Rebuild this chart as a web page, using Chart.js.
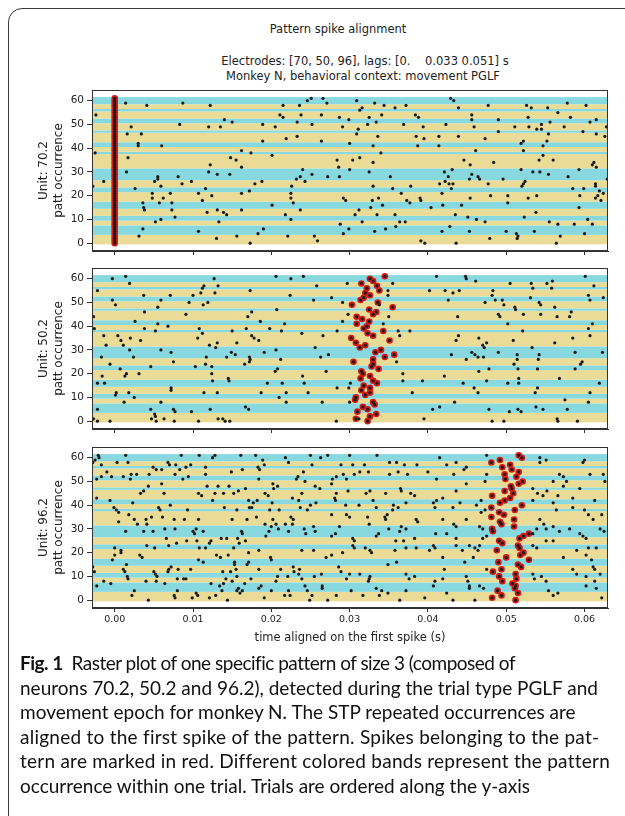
<!DOCTYPE html>
<html>
<head>
<meta charset="utf-8">
<script src="https://cdn.jsdelivr.net/npm/chart.js@4.4.1/dist/chart.umd.min.js"></script>
<style>
  html, body { margin: 0; padding: 0; background: #fff; width: 625px; height: 816px; overflow: hidden; position: relative; }
  .frame { position: absolute; left: 8px; top: 8px; width: 700px; height: 900px; border: 1px solid #3a3a3a; border-top-left-radius: 14px; }
  .mt { position: absolute; font-family: 'DejaVu Sans'; font-size: 11.5px; line-height: 15px; color: #222; white-space: nowrap; transform: translateX(-50%); }
  canvas { position: absolute; left: 0; }
  .cap { position: absolute; left: 20px; top: 651px; font-family: Lato; font-size: 19px; line-height: 24.6px; color: #111; white-space: nowrap; }
  .cap b { font-weight: 700; }
  .cap span { display: block; }
</style>
</head>
<body>
<div class="frame"></div>
<div class="mt" style="left:338px;top:22px">Pattern spike alignment</div>
<div class="mt" style="left:365px;top:54px">Electrodes: [70, 50, 96], lags: [0.&nbsp;&nbsp;&nbsp;&nbsp;0.033 0.051] s</div>
<div class="mt" style="left:363px;top:69px">Monkey N, behavioral context: movement PGLF</div>

<canvas id="p1" width="625" height="181" style="top:80px"></canvas>
<canvas id="p2" width="625" height="181" style="top:258px"></canvas>
<canvas id="p3" width="625" height="217" style="top:437px"></canvas>

<div class="cap">
  <span style="letter-spacing:-0.5px"><b>Fig. 1</b>&nbsp; Raster plot of one specific pattern of size 3 (composed of</span>
  <span>neurons 70.2, 50.2 and 96.2), detected during the trial type PGLF and</span>
  <span>movement epoch for monkey N. The STP repeated occurrences are</span>
  <span style="letter-spacing:0.25px">aligned to the first spike of the pattern. Spikes belonging to the pat-</span>
  <span style="letter-spacing:0.25px">tern are marked in red. Different colored bands represent the pattern</span>
  <span>occurrence within one trial. Trials are ordered along the y-axis</span>
</div>

<script>
// ---- data ----
const xTicks = [0, 0.01, 0.02, 0.03, 0.04, 0.05, 0.06];
const yTicks = [0, 10, 20, 30, 40, 50, 60];
const units = ['70.2', '50.2', '96.2'];

// first occurrence of every trial (bands alternate yellow / cyan)
const trialStarts = [0, 4, 8, 10, 12, 15, 18, 22, 24, 27, 32, 38, 39, 41, 43, 47, 48, 51, 53, 56, 57, 59];
const lastOccurrence = 61;

// pattern spike time per occurrence (0..61)
const p1Pattern = [0,0,0,0,0,0,0,0,0,0,0,0,0,0,0,0,0,0,0,0,0,0,0,0,0,0,0,0,0,0,0,0,
  0,0,0,0,0,0,0,0,0,0,0,0,0,0,0,0,0,0,0,0,0,0,0,0,0,0,0,0,0,0];
const p2Pattern = [0.0323,0.0308,0.0326,0.0334,0.0310,0.0323,0.0317,0.0332,0.0330,0.0307,
  0.0308,0.0320,0.0326,0.0315,0.0326,0.0318,0.0335,0.0330,0.0314,0.0326,
  0.0317,0.0315,0.0337,0.0328,0.0330,0.0305,0.0330,0.0345,0.0357,0.0333,
  0.0340,0.0313,0.0320,0.0308,0.0351,0.0302,0.0330,0.0323,0.0343,0.0318,
  0.0322,0.0309,0.0325,0.0316,0.0309,0.0330,0.0334,0.0325,0.0355,0.0303,
  0.0336,0.0314,0.0318,0.0326,0.0320,0.0338,0.0322,0.0335,0.0315,0.0330,
  0.0326,0.0345];
const p3Pattern = [0.0512,0.0482,0.0494,0.0515,0.0489,0.0511,0.0512,0.0508,0.0495,0.0513,
  0.0491,0.0512,0.0483,0.0494,0.0519,0.0515,0.0490,0.0529,0.0500,0.0518,
  0.0522,0.0488,0.0517,0.0515,0.0495,0.0491,0.0517,0.0522,0.0529,0.0483,
  0.0482,0.0510,0.0494,0.0492,0.0510,0.0481,0.0497,0.0491,0.0511,0.0481,
  0.0520,0.0492,0.0498,0.0505,0.0482,0.0509,0.0498,0.0507,0.0506,0.0516,
  0.0521,0.0499,0.0513,0.0498,0.0516,0.0507,0.0495,0.0505,0.0481,0.0492,
  0.0520,0.0516];

// other spikes [time, occurrence]
const p1Spikes = [
  [-0.0024,54],[-0.0025,38],[-0.0028,24],[-0.0014,26],[0.0014,59],[0.0041,58],[0.0021,49],[0.0016,46],[0.0034,46],[0.0030,42],
  [0.0030,41],[0.0017,36],[0.0015,30],[0.0026,23],[0.0036,17],[0.0037,15],[0.0038,14],[0.0036,6],[0.0031,3],
  [0.0060,41],[0.0051,26],[0.0055,28],[0.0055,27],[0.0048,21],[0.0048,19],[0.0059,24],[0.0062,19],[0.0057,17],[0.0052,9],
  [0.0059,10],[0.0071,21],[0.0073,17],[0.0073,14],[0.0077,11],[0.0081,28],[0.0086,25],[0.0083,50],[0.0087,59],[0.0098,26],
  [0.0107,21],[0.0112,18],[0.0107,5],[0.0118,13],[0.0120,49],[0.0122,58],[0.0122,33],[0.0120,30],[0.0116,23],[0.0124,20],
  [0.0131,29],[0.0130,2],[0.0131,14],[0.0133,9],[0.0135,49],[0.0140,52],[0.0139,13],[0.0143,12],[0.0147,29],[0.0148,36],
  [0.0150,51],[0.0155,35],[0.0156,3],[0.0162,32],[0.0162,39],[0.0162,21],[0.0162,14],[0.0174,38],[0.0172,22],[0.0173,0],
  [0.0179,25],[0.0183,4],[0.0189,50],[0.0188,26],[0.0189,43],[0.0190,6],
  [0.0201,16],[0.0201,37],[0.0205,49],[0.0211,54],[0.0215,53],[0.0215,58],[0.0219,44],[0.0218,12],[0.0221,3],[0.0225,19],
  [0.0225,21],[0.0226,24],[0.0225,10],[0.0228,17],[0.0233,45],[0.0236,58],[0.0233,51],[0.0232,27],[0.0238,54],[0.0237,28],
  [0.0243,26],[0.0240,31],[0.0237,14],[0.0246,60],[0.0251,61],[0.0252,50],[0.0252,29],[0.0255,3],[0.0259,1],
  [0.0266,61],[0.0271,59],[0.0264,54],[0.0264,43],[0.0272,28],[0.0287,53],[0.0291,49],[0.0284,35],[0.0286,32],[0.0287,28],
  [0.0288,8],[0.0292,4],[0.0292,19],[0.0295,18],[0.0299,52],[0.0300,42],[0.0300,31],[0.0299,6],
  [0.0309,60],[0.0311,48],[0.0309,46],[0.0313,36],[0.0304,35],[0.0307,12],[0.0312,14],[0.0316,9],[0.0313,56],[0.0316,57],
  [0.0325,53],[0.0323,50],[0.0334,51],[0.0332,59],[0.0336,45],[0.0330,41],[0.0340,38],[0.0330,34],[0.0325,30],[0.0330,24],
  [0.0329,18],[0.0337,19],[0.0342,16],[0.0327,15],[0.0335,12],[0.0332,5],[0.0346,6],[0.0359,7],[0.0364,9],[0.0371,9],
  [0.0341,54],[0.0344,58],[0.0352,28],[0.0355,23],[0.0358,12],[0.0358,57],[0.0372,58],[0.0366,21],[0.0373,18],[0.0369,50],
  [0.0378,24],[0.0377,17],[0.0384,54],[0.0388,53],[0.0385,45],[0.0387,41],[0.0395,44],[0.0394,49],[0.0390,19],[0.0391,18],
  [0.0391,1],[0.0396,0],[0.0404,15],
  [0.0414,45],[0.0414,41],[0.0419,16],[0.0415,25],[0.0422,26],[0.0427,25],[0.0426,28],[0.0421,30],[0.0431,31],[0.0432,25],
  [0.0430,23],[0.0418,21],[0.0418,5],[0.0428,7],[0.0429,61],[0.0433,60],[0.0439,57],[0.0423,50],[0.0439,45],[0.0435,12],
  [0.0443,16],[0.0436,0],
  [0.0454,19],[0.0451,11],[0.0453,5],[0.0446,35],[0.0454,33],[0.0456,29],[0.0462,10],[0.0456,54],[0.0456,52],[0.0459,49],
  [0.0453,27],[0.0464,28],[0.0466,27],[0.0461,39],[0.0473,9],[0.0473,44],[0.0477,25],[0.0480,20],[0.0477,58],[0.0479,2],
  [0.0484,34],[0.0490,52],[0.0490,47],[0.0496,27],
  [0.0502,20],[0.0502,17],[0.0500,5],[0.0511,49],[0.0513,4],[0.0515,3],[0.0514,2],[0.0519,42],[0.0522,43],[0.0522,39],
  [0.0519,31],[0.0522,25],[0.0524,26],[0.0520,24],[0.0528,19],[0.0523,11],[0.0526,58],[0.0532,57],[0.0528,53],[0.0529,49],
  [0.0536,5],[0.0539,48],[0.0538,13],[0.0539,20],[0.0543,30],[0.0534,30],[0.0542,35],[0.0545,50],[0.0545,48],[0.0554,46],
  [0.0547,37],[0.0547,41],[0.0552,43],[0.0556,51],[0.0553,57],[0.0554,29],[0.0555,9],
  [0.0566,55],[0.0566,8],[0.0564,0],[0.0569,3],[0.0560,35],[0.0574,49],[0.0582,53],[0.0578,59],[0.0579,28],[0.0585,23],
  [0.0587,8],[0.0593,31],[0.0593,15],[0.0594,20],[0.0598,47],[0.0602,58],[0.0599,23],[0.0600,4],[0.0604,10],[0.0607,51],
  [0.0610,8],[0.0610,33],[0.0612,34],[0.0615,32],[0.0614,25],[0.0614,24],[0.0615,52],[0.0615,46],[0.0614,19],[0.0617,20],
  [0.0619,22],[0.0621,18],[0.0626,45],[0.0624,21],[0.0628,49],[0.0629,27]
];

const p2Spikes = [
  [-0.0027,44],[-0.0026,39],[-0.0022,55],[-0.0022,16],[-0.0022,5],[-0.0027,1],[-0.0022,0],[-0.0017,27],[-0.0016,19],[-0.0013,16],
  [-0.0014,36],[-0.0011,32],[-0.0006,24],[-0.0006,0],[-0.0003,60],[-0.0003,51],[0.0001,49],[0.0002,12],[0.0001,11],[0.0004,36],
  [0.0008,34],[0.0011,32],[0.0007,22],[0.0012,8],[0.0013,19],[0.0015,20],[0.0014,61],[0.0019,58],[0.0018,12],[0.0019,30],
  [0.0020,35],[0.0024,27],[0.0025,10],[0.0026,42],[0.0031,20],[0.0033,34],[0.0037,53],[0.0038,46],[0.0038,39],[0.0046,23],
  [0.0046,5],[0.0047,1],[0.0051,3],[0.0052,2],[0.0053,0],[0.0052,38],[0.0055,41],[0.0055,48],[0.0059,51],[0.0059,30],
  [0.0059,8],[0.0063,1],[0.0068,40],[0.0072,29],[0.0071,53],[0.0072,14],[0.0072,13],[0.0075,25],[0.0075,5],[0.0077,4],
  [0.0076,0],[0.0091,45],[0.0095,50],[0.0100,53],[0.0098,4],[0.0103,23],[0.0107,0],[0.0106,35],[0.0108,39],[0.0110,54],
  [0.0112,56],[0.0114,57],[0.0113,49],[0.0112,37],[0.0114,12],[0.0116,24],[0.0117,27],[0.0119,50],[0.0122,5],[0.0121,32],
  [0.0124,23],[0.0124,20],[0.0125,17],[0.0127,60],[0.0128,54],[0.0129,31],[0.0131,12],[0.0132,57],[0.0131,33],[0.0132,1],
  [0.0138,1],[0.0141,0],[0.0143,27],[0.0145,18],[0.0146,17],[0.0147,0],[0.0149,29],[0.0150,38],[0.0154,28],[0.0156,33],
  [0.0166,24],[0.0168,39],[0.0167,6],[0.0171,5],[0.0170,44],[0.0173,55],[0.0172,27],[0.0172,25],[0.0173,26],[0.0175,46],
  [0.0175,36],[0.0178,35],[0.0184,34],[0.0186,42],[0.0187,12],[0.0191,29],[0.0195,16],[0.0198,39],[0.0206,61],[0.0206,30],
  [0.0207,47],[0.0205,21],[0.0208,22],[0.0210,10],[0.0212,26],[0.0214,16],[0.0213,38],[0.0217,41],[0.0219,12],[0.0219,8],
  [0.0225,60],[0.0224,53],[0.0239,37],[0.0240,19],[0.0242,16],[0.0241,61],[0.0247,12],[0.0256,31],[0.0254,51],[0.0258,57],
  [0.0277,52],[0.0291,50],[0.0297,58],[0.0291,42],[0.0298,45],[0.0284,38],[0.0266,36],[0.0263,27],[0.0273,28],[0.0270,21],
  [0.0284,14],[0.0265,8],[0.0299,14],[0.0301,16],[0.0283,0],[0.0300,8],[0.0312,1],
  [0.0355,58],[0.0349,55],[0.0349,53],[0.0338,49],[0.0343,41],[0.0350,44],[0.0362,38],[0.0364,36],[0.0377,38],[0.0360,25],
  [0.0368,20],[0.0368,17],[0.0380,12],[0.0393,17],[0.0406,5],[0.0415,6],[0.0395,1],[0.0402,55],[0.0411,61],[0.0422,55],
  [0.0426,51],[0.0432,54],[0.0440,55],[0.0448,61],[0.0449,60],[0.0461,59],[0.0438,44],[0.0439,36],[0.0436,34],[0.0430,28],
  [0.0421,19],[0.0445,16],[0.0434,8],[0.0449,26],[0.0456,29],[0.0460,28],[0.0464,27],[0.0465,35],[0.0470,32],[0.0475,33],
  [0.0472,31],[0.0471,27],[0.0473,50],[0.0482,53],[0.0486,51],[0.0483,55],[0.0490,45],[0.0492,44],[0.0502,41],[0.0495,51],
  [0.0497,49],[0.0490,29],[0.0478,22],[0.0465,21],[0.0459,14],[0.0464,12],[0.0475,17],[0.0482,0],[0.0497,0],[0.0478,5],
  [0.0505,58],[0.0511,48],[0.0512,47],[0.0522,45],[0.0521,38],[0.0509,34],[0.0514,28],[0.0514,26],[0.0515,22],[0.0510,24],
  [0.0516,18],[0.0516,16],[0.0502,16],[0.0504,4],[0.0515,5],[0.0519,4],[0.0533,31],[0.0531,52],[0.0532,58],[0.0534,56],
  [0.0542,50],[0.0544,49],[0.0544,45],[0.0542,28],[0.0541,26],[0.0540,22],[0.0537,12],[0.0540,14],[0.0538,6],[0.0547,5],
  [0.0552,58],[0.0559,59],[0.0558,56],[0.0562,48],[0.0565,44],[0.0562,33],[0.0568,18],[0.0575,9],[0.0581,44],[0.0585,35],
  [0.0583,46],[0.0588,29],[0.0588,22],[0.0595,24],[0.0601,61],[0.0605,53],[0.0607,51],[0.0612,57],[0.0605,8],[0.0607,12],
  [0.0605,39],[0.0610,41],[0.0607,36],[0.0597,25],[0.0623,29],[0.0619,16],[0.0624,52],[0.0565,1],[0.0566,0],[0.0591,0],
  [0.0578,5]
];

const p3Spikes = [
  [-0.0028,58],[-0.0025,59],[-0.0021,61],[-0.0020,60],[-0.0017,57],[-0.0017,52],[-0.0023,51],[-0.0010,54],[-0.0004,52],[0.0003,58],
  [0.0014,61],[0.0017,58],[0.0011,52],[0.0021,53],[0.0028,53],[0.0020,51],[0.0044,53],[0.0043,48],[0.0049,56],[0.0053,55],
  [0.0060,55],[0.0060,49],[0.0063,45],[0.0068,58],[0.0070,57],[0.0078,57],[0.0085,61],[0.0077,53],[0.0083,55],[0.0087,51],
  [0.0091,56],[0.0094,52],[0.0097,57],[0.0108,61],[0.0107,45],[0.0116,56],[0.0125,60],[0.0128,61],[0.0116,53],[0.0111,44],
  [0.0118,48],[0.0132,48],[0.0128,45],[0.0125,42],[0.0139,45],[0.0146,48],[0.0152,45],[0.0149,54],[0.0161,61],[0.0163,55],
  [0.0158,46],[0.0167,47],[0.0171,42],[0.0172,39],[0.0180,61],[0.0183,56],[0.0185,55],[0.0184,51],[0.0189,59],[0.0191,57],
  [0.0192,45],[0.0196,44],[0.0202,49],[0.0203,47],[0.0208,48],[0.0201,41],[0.0198,38],[0.0218,60],[0.0222,58],[0.0227,43],
  [0.0232,51],[0.0234,52],[0.0241,54],[0.0243,50],[0.0239,45],[0.0250,61],[0.0252,57],[0.0256,48],[0.0250,40],[0.0246,38],
  [-0.0023,43],[-0.0006,42],[-0.0001,39],[0.0002,38],[0.0005,37],[0.0005,33],[0.0000,22],[0.0000,19],[0.0008,20],[0.0014,29],
  [0.0018,36],[0.0025,34],[0.0029,32],[0.0023,41],[0.0033,45],[0.0037,46],[0.0040,34],[0.0041,32],[0.0041,23],[0.0037,29],
  [0.0032,19],[0.0035,18],[0.0047,35],[0.0049,29],[0.0051,22],[0.0056,39],[0.0058,38],[0.0061,35],[0.0064,30],[0.0066,26],
  [0.0069,23],[0.0071,40],[0.0076,34],[0.0077,30],[0.0079,24],[0.0089,34],[0.0093,38],[0.0092,25],[0.0100,29],[0.0102,28],
  [0.0104,30],[0.0107,34],[0.0105,25],[0.0108,22],[0.0113,29],[0.0116,22],[0.0121,24],[0.0123,25],[0.0130,19],[0.0135,18],
  [0.0136,26],[0.0140,39],[0.0143,26],[0.0145,19],[0.0150,34],[0.0152,22],[0.0157,26],[0.0159,24],[0.0156,38],[0.0162,29],
  [0.0163,28],[0.0167,25],[0.0169,34],[0.0171,20],[0.0171,16],[0.0175,39],[0.0177,41],[0.0182,42],[0.0181,35],[0.0184,21],
  [0.0193,27],[0.0192,32],[0.0197,29],[0.0202,34],[0.0200,31],[0.0206,32],[0.0209,30],[0.0200,17],[0.0199,18],[0.0210,38],
  [0.0218,32],[0.0225,35],[0.0228,34],[0.0227,32],[0.0222,29],[0.0235,42],[0.0237,39],[0.0239,21],[0.0242,30],[0.0244,28],
  [0.0254,31],[0.0256,29],[0.0254,21],
  [-0.0028,14],[-0.0026,12],[-0.0023,6],[-0.0014,8],[-0.0005,7],[-0.0003,17],[0.0008,21],[0.0011,13],[0.0013,12],[0.0015,15],
  [0.0016,10],[0.0017,9],[0.0022,2],[0.0025,4],[0.0040,8],[0.0043,0],[0.0050,12],[0.0052,11],[0.0053,8],[0.0054,10],
  [0.0064,7],[0.0068,12],[0.0069,13],[0.0072,14],[0.0076,2],[0.0077,1],[0.0080,9],[0.0080,4],[0.0081,13],[0.0088,9],
  [0.0091,9],[0.0097,13],[0.0099,1],[0.0104,3],[0.0106,2],[0.0107,17],[0.0113,16],[0.0121,1],[0.0123,7],[0.0129,2],
  [0.0134,6],[0.0137,4],[0.0138,12],[0.0139,7],[0.0142,9],[0.0144,0],[0.0148,12],[0.0150,8],[0.0153,16],[0.0153,15],
  [0.0155,13],[0.0156,10],[0.0156,4],[0.0158,5],[0.0160,3],[0.0163,4],[0.0166,7],[0.0169,15],[0.0174,9],[0.0184,5],
  [0.0184,13],[0.0187,6],[0.0191,1],[0.0200,4],[0.0206,8],[0.0208,10],[0.0212,13],[0.0217,2],[0.0221,10],[0.0222,4],
  [0.0224,2],[0.0228,14],[0.0229,12],[0.0235,11],[0.0236,13],[0.0239,9],[0.0243,6],[0.0246,4],[0.0249,0],[0.0252,2],
  [0.0255,10],
  [0.0272,61],[0.0300,61],[0.0335,61],[0.0263,60],[0.0289,57],[0.0304,57],[0.0319,57],[0.0351,58],[0.0360,58],[0.0370,57],
  [0.0386,57],[0.0415,60],[0.0424,57],[0.0436,58],[0.0446,55],[0.0449,56],[0.0475,61],[0.0475,53],[0.0473,50],[0.0449,49],
  [0.0433,53],[0.0411,51],[0.0400,54],[0.0374,53],[0.0362,54],[0.0351,53],[0.0324,54],[0.0313,54],[0.0306,53],[0.0292,53],
  [0.0283,52],[0.0278,51],[0.0277,49],[0.0296,51],[0.0543,60],[0.0551,59],[0.0543,58],[0.0568,53],[0.0573,52],[0.0577,50],
  [0.0600,59],[0.0598,58],[0.0607,53],[0.0624,53],[0.0626,50],[0.0594,47],[0.0585,43],[0.0560,50],
  [0.0262,47],[0.0283,45],[0.0298,46],[0.0321,45],[0.0326,46],[0.0346,45],[0.0365,47],[0.0366,46],[0.0378,45],[0.0383,44],
  [0.0411,42],[0.0419,43],[0.0436,46],[0.0468,42],[0.0257,41],[0.0281,43],[0.0282,42],[0.0295,40],[0.0312,40],[0.0330,42],
  [0.0334,39],[0.0356,40],[0.0355,38],[0.0362,39],[0.0372,41],[0.0385,34],[0.0407,41],[0.0409,39],[0.0432,39],[0.0441,41],
  [0.0462,40],[0.0468,37],[0.0473,38],[0.0277,36],[0.0296,36],[0.0300,35],[0.0323,35],[0.0345,35],[0.0346,34],[0.0348,36],
  [0.0366,31],[0.0387,33],[0.0419,34],[0.0433,32],[0.0436,31],[0.0449,34],[0.0466,31],[0.0470,30],[0.0277,27],[0.0282,28],
  [0.0287,31],[0.0304,26],[0.0306,25],[0.0325,32],[0.0334,27],[0.0337,28],[0.0350,30],[0.0364,29],[0.0372,30],[0.0359,25],
  [0.0369,25],[0.0383,26],[0.0410,28],[0.0424,28],[0.0436,26],[0.0453,23],[0.0460,22],[0.0470,26],[0.0475,27],[0.0270,18],
  [0.0277,19],[0.0291,20],[0.0304,23],[0.0306,22],[0.0320,22],[0.0326,21],[0.0328,20],[0.0358,21],[0.0372,22],[0.0385,22],
  [0.0402,21],[0.0407,23],[0.0409,22],[0.0419,18],[0.0436,23],[0.0444,21],[0.0458,18],[0.0464,21],[0.0466,23],
  [0.0534,47],[0.0540,45],[0.0547,44],[0.0552,46],[0.0573,48],[0.0566,44],[0.0534,42],[0.0560,41],[0.0564,38],[0.0585,39],
  [0.0600,38],[0.0605,36],[0.0611,34],[0.0613,42],[0.0622,36],[0.0543,34],[0.0548,32],[0.0534,28],[0.0539,30],[0.0551,30],
  [0.0560,31],[0.0568,29],[0.0581,30],[0.0594,28],[0.0598,27],[0.0602,26],[0.0620,30],[0.0625,29],[0.0534,23],[0.0539,22],
  [0.0551,25],[0.0560,25],[0.0590,21],[0.0605,22],[0.0602,19],[0.0615,22],[0.0573,18],[0.0609,17],[0.0613,13],
  [0.0264,11],[0.0286,14],[0.0289,12],[0.0300,11],[0.0296,9],[0.0313,11],[0.0326,10],[0.0325,9],[0.0324,8],[0.0334,5],
  [0.0341,4],[0.0349,3],[0.0265,6],[0.0265,5],[0.0272,0],[0.0283,2],[0.0302,4],[0.0317,2],[0.0338,2],[0.0349,15],
  [0.0360,16],[0.0372,11],[0.0376,9],[0.0383,10],[0.0372,4],[0.0364,0],[0.0396,1],[0.0407,6],[0.0409,8],[0.0419,9],
  [0.0421,13],[0.0424,3],[0.0432,0],[0.0447,16],[0.0449,10],[0.0451,8],[0.0453,6],[0.0453,5],[0.0466,6],[0.0471,5],
  [0.0460,0],[0.0475,13],[0.0534,11],[0.0536,9],[0.0545,10],[0.0551,8],[0.0554,4],[0.0560,2],[0.0566,3],[0.0585,13],
  [0.0590,11],[0.0602,10],[0.0602,6],[0.0613,8],[0.0615,5],[0.0622,1],[0.0620,11],[0.0611,14]
];

// ---- drawing ----
const bandColors = ['#eadc96', '#88d8e0'];
const axisColor = '#333';
const textColor = '#222';

const bandPlugin = {
  id: 'trialBands',
  beforeDatasetsDraw(chart) {
    const { ctx, chartArea: a, scales: { y } } = chart;
    ctx.save();
    trialStarts.forEach((start, i) => {
      const end = i + 1 < trialStarts.length ? trialStarts[i + 1] - 1 : lastOccurrence;
      const top = y.getPixelForValue(end + 0.5);
      const bottom = y.getPixelForValue(start - 0.5);
      ctx.fillStyle = bandColors[i % 2];
      ctx.fillRect(a.left, top, a.width, bottom - top);
    });
    ctx.restore();
  },
  afterDatasetsDraw(chart) {
    const { ctx, chartArea: a } = chart;
    ctx.save();
    ctx.strokeStyle = axisColor;
    ctx.lineWidth = 1;
    ctx.strokeRect(Math.round(a.left) + 0.5, Math.round(a.top) + 0.5,
      Math.round(a.width) - 1, Math.round(a.height) - 1);
    ctx.restore();
  }
};

function makePanel(id, unit, spikes, pattern, showX) {
  const patternPts = pattern.map((x, i) => ({ x, y: i }));
  const allPts = spikes.map(([x, y]) => ({ x, y })).concat(patternPts);

  new Chart(document.getElementById(id), {
    type: 'scatter',
    data: {
      datasets: [
        { data: allPts, backgroundColor: '#1a1a1a', pointRadius: 1.6, pointBorderWidth: 0, pointHoverRadius: 0 },
        { data: patternPts, backgroundColor: '#d11a16', pointRadius: 3.3, pointBorderWidth: 0, pointHoverRadius: 0 },
      ],
    },
    options: {
      responsive: false,
      animation: false,
      devicePixelRatio: 1,
      events: [],
      layout: { padding: { left: 37, right: 17, top: 10, bottom: 0 } },
      plugins: { legend: { display: false }, tooltip: { enabled: false } },
      scales: {
        x: {
          type: 'linear',
          min: -0.0029,
          max: 0.0630,
          afterBuildTicks: s => { s.ticks = xTicks.map(v => ({ value: v })); },
          afterFit: s => { s.height = showX ? 46 : 10; },
          ticks: {
            callback: v => showX ? v.toFixed(2) : '',
            color: textColor,
            font: { family: 'DejaVu Sans', size: 9.5 },
            padding: 2,
            maxRotation: 0,
            autoSkip: false,
          },
          grid: { drawOnChartArea: false, tickLength: 4, color: axisColor },
          border: { color: axisColor },
          title: {
            display: showX,
            text: 'time aligned on the first spike (s)',
            color: textColor,
            font: { family: 'DejaVu Sans', size: 11.5 },
            padding: { top: 0, bottom: 9 },
          },
        },
        y: {
          min: -3.3,
          max: 64.5,
          afterBuildTicks: s => { s.ticks = yTicks.map(v => ({ value: v })); },
          afterFit: s => { s.width = 55; },
          ticks: {
            color: textColor,
            font: { family: 'DejaVu Sans', size: 10.5 },
            padding: 3,
          },
          grid: { drawOnChartArea: false, tickLength: 5, color: axisColor },
          border: { color: axisColor },
          title: {
            display: true,
            text: ['Unit: ' + unit, 'patt occurrence'],
            color: textColor,
            font: { family: 'DejaVu Sans', size: 12 },
            lineHeight: 1.1,
            padding: { top: 0, bottom: 0 },
          },
        },
      },
    },
    plugins: [bandPlugin],
  });
}

makePanel('p1', units[0], p1Spikes, p1Pattern, false);
makePanel('p2', units[1], p2Spikes, p2Pattern, false);
makePanel('p3', units[2], p3Spikes, p3Pattern, true);
</script>
</body>
</html>
